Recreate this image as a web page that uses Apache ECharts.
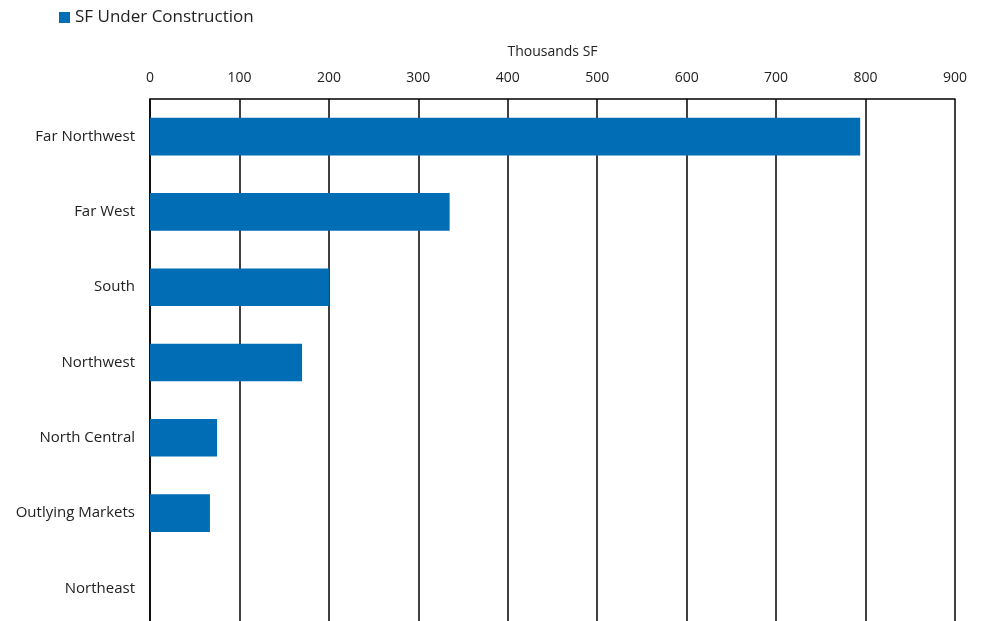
<!DOCTYPE html>
<html><head><meta charset="utf-8">
<script src="https://cdn.jsdelivr.net/npm/echarts@6/dist/echarts.min.js"></script>
<style>html,body{margin:0;padding:0;background:#fff}#c{width:985px;height:621px}</style>
</head><body><div id="c"></div>
<script>
const categories = ["Far Northwest","Far West","South","Northwest","North Central","Outlying Markets","Northeast"];
const sfUnderConstruction = [794, 335, 200, 170, 75, 67, 0];
const xTicks = [0,100,200,300,400,500,600,700,800,900];
const chart = echarts.init(document.getElementById('c'));
const font = '"Open Sans", "Noto Sans", sans-serif';
chart.setOption({
  animation: false,
  textStyle: {fontFamily: font},
  legend: {
    left: 54, top: 4, itemWidth: 11, itemHeight: 11, itemGap: 10,
    textStyle: {fontSize: 17, color: '#222', fontFamily: font},
    data: [{name: 'SF Under Construction', icon: 'rect'}]
  },
  grid: {left: 150, width: 805, top: 99, height: 527, containLabel: false, outerBoundsMode: 'none'},
  xAxis: {
    type: 'value', position: 'top', min: xTicks[0], max: xTicks[xTicks.length-1], interval: 100,
    name: 'Thousands SF', nameLocation: 'middle', nameGap: 40,
    nameTextStyle: {fontSize: 14, color: '#222', fontFamily: font},
    axisLine: {show: true, lineStyle: {color: '#000', width: 1.5}},
    axisTick: {show: false},
    axisLabel: {fontSize: 14, color: '#222', margin: 14, fontFamily: font},
    splitLine: {show: true, lineStyle: {color: '#000', width: 1.5}}
  },
  yAxis: {
    type: 'category', inverse: true, data: categories,
    axisLine: {show: true, lineStyle: {color: '#000', width: 1.5}},
    axisTick: {show: false},
    axisLabel: {fontSize: 15, color: '#222', margin: 15, fontFamily: font},
    splitLine: {show: false}
  },
  series: [{
    name: 'SF Under Construction', type: 'bar', data: sfUnderConstruction,
    barWidth: '50%',
    itemStyle: {color: '#006db5'}
  }]
});
</script></body></html>
